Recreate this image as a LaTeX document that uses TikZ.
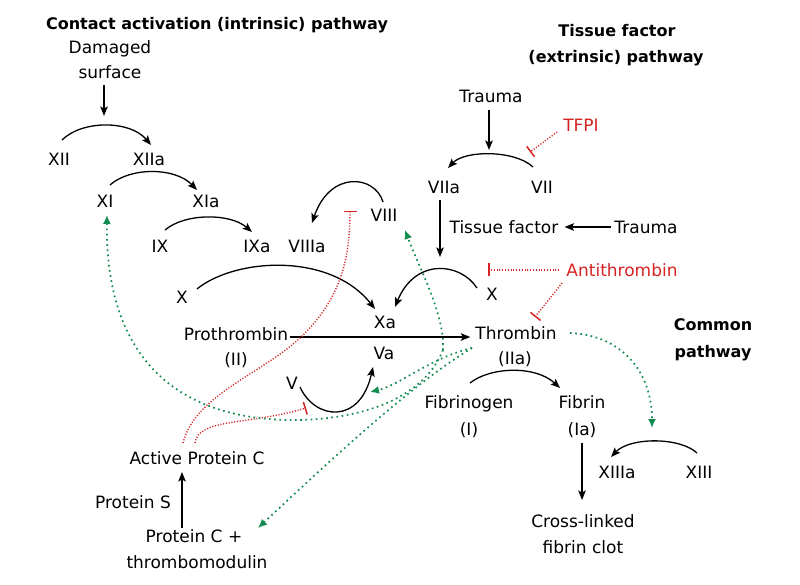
\documentclass[tikz,border=0pt]{standalone}
\usepackage{fontspec}
\setmainfont{DejaVu Sans}
\usetikzlibrary{arrows.meta}
\definecolor{inhred}{RGB}{215,35,35}
\definecolor{actgreen}{RGB}{20,140,80}
\begin{document}
\begin{tikzpicture}[x=1pt,y=-1pt,
 lbl/.style={inner sep=0pt, text height=12.4pt, text depth=0pt, font=\fontsize{17}{20}\selectfont},
 ttl/.style={inner sep=0pt, text height=11.6pt, text depth=0pt, font=\fontsize{16}{19}\selectfont\bfseries},
 inh/.style={lbl, text=inhred},
 act/.style={line width=1.3pt, -{Stealth[length=9.5pt,width=7.5pt,inset=2pt]}},
 fb/.style={line width=1.4pt, inhred, dash pattern=on 1.1pt off 1.7pt, -{Bar[width=13pt,line width=1.5pt]}},
 thfb/.style={line width=1.7pt, actgreen, dash pattern=on 1.7pt off 3.5pt, -{Latex[length=9pt,width=8pt]}},
]
\fill[white] (0,0) rectangle (800,585);
\useasboundingbox (0,0) rectangle (800,585);

% titles
\node[ttl] (t1) at (217,24) {Contact activation (intrinsic) pathway};
\node[ttl] (t2a) at (617,31) {Tissue factor};
\node[ttl] (t2b) at (616,57) {(extrinsic) pathway};
\node[ttl] (t3a) at (713,325) {Common};
\node[ttl] (t3b) at (713,352) {pathway};

% labels
\node[lbl] (damaged) at (110,47) {Damaged};
\node[lbl] (surface) at (110,72) {surface};
\node[lbl] (XII) at (59,159) {XII};
\node[lbl] (XIIa) at (149,159) {XIIa};
\node[lbl] (XI) at (105,201) {XI};
\node[lbl] (XIa) at (206,201) {XIa};
\node[lbl] (IX) at (160,246) {IX};
\node[lbl] (IXa) at (257,246) {IXa};
\node[lbl] (VIIIa) at (307,246) {VIIIa};
\node[lbl] (VIII) at (384,215) {VIII};
\node[lbl] (trauma1) at (491,96) {Trauma};
\node[inh] (TFPI) at (581,125) {TFPI};
\node[lbl] (VIIa) at (444,187) {VIIa};
\node[lbl] (VII) at (542,187) {VII};
\node[lbl] (TF) at (504,227) {Tissue factor};
\node[lbl] (trauma2) at (646,227) {Trauma};
\node[inh] (AT) at (622,270) {Antithrombin};
\node[lbl] (Xl) at (182,297) {X};
\node[lbl] (Xr) at (492,294) {X};
\node[lbl] (Xa) at (385,322) {Xa};
\node[lbl] (proth) at (236,334) {Prothrombin};
\node[lbl] (II) at (236,359) {(II)};
\node[lbl] (Va) at (384,353) {Va};
\node[lbl] (thromb) at (516,333) {Thrombin};
\node[lbl] (IIa) at (515,358) {(IIa)};
\node[lbl] (V) at (292,383) {V};
\node[lbl] (fbg) at (469,402) {Fibrinogen};
\node[lbl] (I) at (469,429) {(I)};
\node[lbl] (fbn) at (582,402) {Fibrin};
\node[lbl] (Ia) at (582,429) {(Ia)};
\node[lbl] (XIIIa) at (617,472) {XIIIa};
\node[lbl] (XIII) at (699,472) {XIII};
\node[lbl] (APC) at (197,458) {Active Protein C};
\node[lbl] (PS) at (133,502) {Protein S};
\node[lbl] (PC) at (194,536) {Protein C +};
\node[lbl] (TM) at (197,562) {thrombomodulin};
\node[lbl] (clot1) at (583,521) {Cross-linked};
\node[lbl] (clot2) at (583,547) {fibrin clot};

% connector end points
\coordinate (dsEnd) at (104,116);
\coordinate (trEnd) at (489,150);
\coordinate (tfEnd) at (440,257);
\coordinate (thO) at (443,350);
\coordinate (thL) at (472,348);
\coordinate (thR) at (570,333);

% black reactions
\draw[act] (104,85) -- (dsEnd);
\draw[act] (62,140) .. controls (82,120) and (130,120) .. (151,145);
\draw[act] (110,185) .. controls (130,167) and (175,167) .. (197,190);
\draw[act] (165,230) .. controls (185,213) and (230,213) .. (252,232);
\draw[act] (383,202) .. controls (375,175) and (330,170) .. (312,223);
\draw[act] (489,110) -- (trEnd);
\draw[act] (533,167) .. controls (515,150) and (465,150) .. (448,168);
\draw[act] (440,200) -- (tfEnd);
\draw[act] ([xshift=-3pt]trauma2.west) -- ([xshift=6pt]TF.east);
\draw[act] (197,289) .. controls (235,258) and (330,252) .. (375,309);
\draw[act] (477,288) .. controls (460,262) and (415,258) .. (395,307);
\draw[act] ([xshift=2pt,yshift=-3pt]proth.east) -- ([xshift=-5pt,yshift=-4pt]thromb.west);
\draw[act] (300,387) .. controls (315,420) and (360,425) .. (373,367);
\draw[act] (470,383) .. controls (490,367) and (535,365) .. (560,388);
\draw[act] (697,453) .. controls (680,437) and (630,437) .. (611,457);
\draw[act] (582,443) -- (582,500);
\draw[act] (182,528) -- (182,472);

% inhibitions
\draw[fb] ([xshift=-6pt,yshift=-7pt]TFPI.west) -- (530,152);
\draw[fb] ([xshift=-7pt]AT.west) -- (488,270);
\draw[fb] (562,283) -- (535,317);
\draw[fb] (183,443) .. controls (195,395) and (260,375) .. (300,338)
  .. controls (340,300) and (350,260) .. (350,211);
\draw[fb] (195,443) .. controls (198,418) and (250,425) .. (306,408);

% thrombin feedback
\draw[thfb] (thO) .. controls (445,315) and (420,270) .. (405,230);
\draw[thfb] (thO) .. controls (425,395) and (370,418) .. (300,420)
  .. controls (190,422) and (105,370) .. (107,215);
\draw[thfb] (thL) .. controls (430,358) and (400,385) .. (370,392);
\draw[thfb] (thL) .. controls (410,385) and (320,470) .. (258,528);
\draw[thfb] (thR) .. controls (620,335) and (652,370) .. (652,428);
\end{tikzpicture}
\end{document}
